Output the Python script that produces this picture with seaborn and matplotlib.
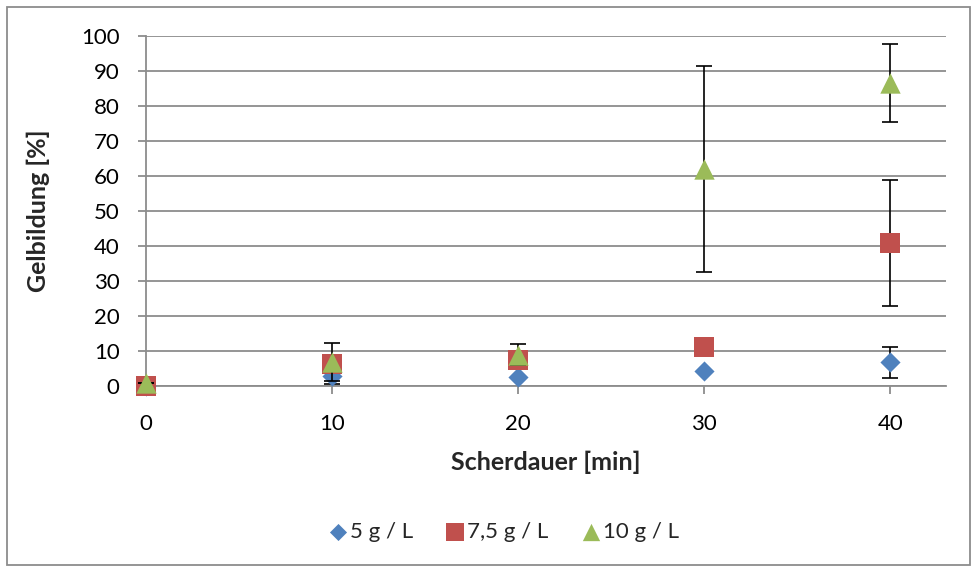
import matplotlib.pyplot as plt
import matplotlib.patches as mpatches
import pandas as pd
import seaborn as sns

# Data
scherdauer = [0, 10, 20, 30, 40]
series_names = ["5 g / L", "7,5 g / L", "10 g / L"]
gel_5 = [0.0, 3.0, 2.7, 4.4, 6.8]
gel_75 = [0.0, 6.3, 7.4, 11.1, 41.0]
gel_10 = [0.8, 6.8, 9.0, 62.0, 86.5]
err_5 = [0.0, 2.4, 0.0, 0.0, 4.4]
err_75 = [0.0, 0.0, 0.0, 0.0, 18.0]
err_10 = [0.0, 5.4, 3.0, 29.5, 11.2]

colors = ["#4F81BD", "#C0504D", "#9BBB59"]
markers = ["D", "s", "^"]
msizes = [105, 225, 215]

table = {"Scherdauer": [], "Gelbildung": [], "err": [], "series": []}
for name, vals, errs in zip(series_names, [gel_5, gel_75, gel_10], [err_5, err_75, err_10]):
    for x, v, e in zip(scherdauer, vals, errs):
        table["Scherdauer"].append(x)
        table["Gelbildung"].append(v)
        table["err"].append(e)
        table["series"].append(name)
df = pd.DataFrame(table)

sns.set_theme(style="white")
plt.rcParams["font.family"] = ["Lato", "DejaVu Sans"]

fig = plt.figure(figsize=(9.78, 5.7), dpi=100)
ax = fig.add_axes([146 / 978, 184 / 570, 800 / 978, 350 / 570])

for i, name in enumerate(series_names):
    sub = df[df["series"] == name]
    ax.errorbar(sub["Scherdauer"], sub["Gelbildung"], yerr=sub["err"], fmt="none",
                ecolor="black", elinewidth=1.2, capsize=5.5, capthick=1.2,
                zorder=2 + i * 2, clip_on=False)
    sns.scatterplot(data=sub, x="Scherdauer", y="Gelbildung", ax=ax,
                    marker=markers[i], color=colors[i], s=msizes[i],
                    linewidth=0, label=name, zorder=3 + i * 2, clip_on=False)

ax.set_xlim(0, 43)
ax.set_ylim(0, 100)
ax.set_xticks([0, 10, 20, 30, 40])
ax.set_yticks(range(0, 101, 10))
ax.yaxis.grid(True, color="#8C8C8C", linewidth=1.3)
ax.set_axisbelow(True)
for s in ["top", "right"]:
    ax.spines[s].set_visible(False)
ax.spines["left"].set_color("#8C8C8C")
ax.spines["bottom"].set_color("#8C8C8C")
ax.spines["left"].set_linewidth(1.3)
ax.spines["bottom"].set_linewidth(1.3)
ax.tick_params(axis="both", which="major", direction="out", length=6, width=1.3,
               color="#8C8C8C", labelsize=16, labelcolor="black", pad=13,
               bottom=True, left=True)
ax.tick_params(axis="x", pad=14)
ax.set_xlabel("Scherdauer [min]", fontsize=18, fontweight="bold", labelpad=12)
ax.set_ylabel("Gelbildung [%]", fontsize=18, fontweight="bold", labelpad=22)

ax.legend_.remove()
handles, labels = ax.get_legend_handles_labels()
fig.legend(handles, labels, loc="center", bbox_to_anchor=(504 / 978, 1 - 532 / 570),
           ncol=3, frameon=False, fontsize=16, handlelength=0.8, handletextpad=0.15,
           columnspacing=1.5, markerscale=0.85)

fig.add_artist(mpatches.Rectangle((7 / 978, 5 / 570), 963 / 978, 558 / 570,
                                  transform=fig.transFigure, fill=False,
                                  edgecolor="#8C8C8C", linewidth=1.3))

fig.savefig("out.png", dpi=100)
